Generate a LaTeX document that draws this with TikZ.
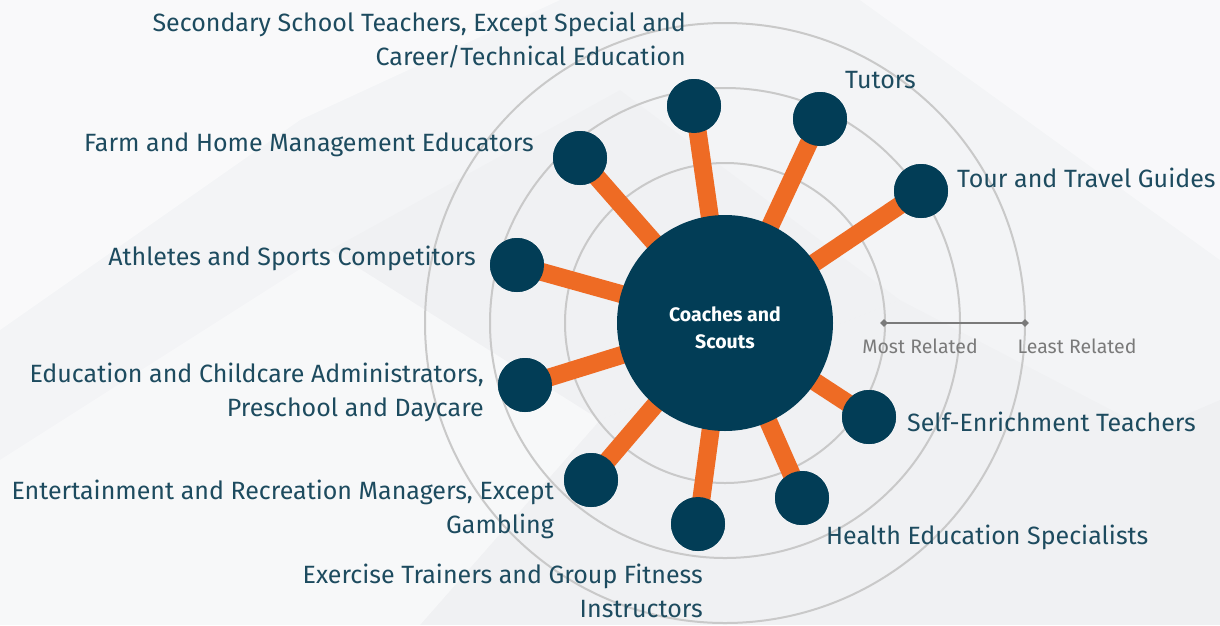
\documentclass[tikz,border=0pt]{standalone}
\usepackage{fontspec}
\setmainfont{Fira Sans}
\usetikzlibrary{shapes.geometric}
\definecolor{navy}{HTML}{023D56}
\definecolor{orng}{HTML}{EE6B24}
\definecolor{lbl}{HTML}{1D4B5F}
\definecolor{ring}{HTML}{C9C9C9}
\definecolor{legc}{HTML}{7A7A7A}
\definecolor{bg}{HTML}{F3F4F6}
\tikzset{
  sat/.style={circle, fill=navy, minimum size=54pt, inner sep=0pt},
  hub/.style={circle, fill=navy, minimum size=216pt, inner sep=0pt},
  hubtext/.style={text=white, font=\fontsize{19.5}{27}\selectfont\bfseries, align=center, inner sep=0pt},
  spoke/.style={orng, line width=18pt},
  lab/.style={text=lbl, font=\fontsize{25}{34}\selectfont, inner sep=0pt},
  leg/.style={text=legc, font=\fontsize{19.5}{22}\selectfont, inner sep=0pt},
  ringline/.style={draw=ring, line width=2pt},
}
\begin{document}
\begin{tikzpicture}[x=1pt,y=-1pt]
\useasboundingbox (0,0) rectangle (1220,625);
% background
\fill[bg] (0,0) rectangle (1220,625);
\fill[white,opacity=0.5] (0,0) -- (560,0) -- (300,120) -- (0,330) -- cycle;
\fill[white,opacity=0.4] (0,460) -- (330,250) -- (600,420) -- (420,625) -- (0,625) -- cycle;
\fill[black,opacity=0.012] (330,250) -- (620,90) -- (900,300) -- (600,420) -- cycle;
\fill[white,opacity=0.45] (860,0) -- (1220,0) -- (1220,260) -- cycle;
\fill[black,opacity=0.015] (1150,430) -- (1220,400) -- (1220,625) -- (1150,625) -- cycle;
\fill[black,opacity=0.01] (600,420) -- (900,300) -- (1150,430) -- (1150,625) -- (420,625) -- cycle;
% rings
\coordinate (c) at (725,323);
\draw[ringline] (c) circle[radius=160];
\draw[ringline] (c) circle[radius=235];
\draw[ringline] (c) circle[radius=300];
% satellites
\node[sat] (s1) at (694,106) {};
\node[sat] (s2) at (820,119) {};
\node[sat] (s3) at (921,191) {};
\node[sat] (s4) at (580,158) {};
\node[sat] (s5) at (517,265) {};
\node[sat] (s6) at (525,385) {};
\node[sat] (s7) at (591,480) {};
\node[sat] (s8) at (698,524) {};
\node[sat] (s9) at (802,498) {};
\node[sat] (s10) at (869,417) {};
% spokes
\foreach \s in {s1,s2,s3,s4,s5,s6,s7,s8,s9,s10}
  \draw[spoke] (c) -- (\s.center);
\foreach \s/\p in {s1/{694,106},s2/{820,119},s3/{921,191},s4/{580,158},s5/{517,265},s6/{525,385},s7/{591,480},s8/{698,524},s9/{802,498},s10/{869,417}}
  \node[sat] at (\p) {};
% hub
\node[hub] (hub) at (c) {};
\node[hubtext] (hubt) at (725,328) {Coaches and\\Scouts};
% labels
\node[lab, anchor=east, align=right] (l1) at (686,40) {Secondary School Teachers, Except Special and\\Career/Technical Education};
\node[lab, anchor=west] (l2) at (845,80) {Tutors};
\node[lab, anchor=west] (l3) at (957,178) {Tour and Travel Guides};
\node[lab, anchor=east] (l4) at (534,145) {Farm and Home Management Educators};
\node[lab, anchor=east] (l5) at (476,258) {Athletes and Sports Competitors};
\node[lab, anchor=east, align=right] (l6) at (484,392) {Education and Childcare Administrators,\\Preschool and Daycare};
\node[lab, anchor=west] (l10) at (907,422) {Self-Enrichment Teachers};
\node[lab, anchor=east, align=right] (l7) at (554,509) {Entertainment and Recreation Managers, Except\\Gambling};
\node[lab, anchor=west] (l9) at (826,537) {Health Education Specialists};
\node[lab, anchor=east, align=right] (l8) at (703,591) {Exercise Trainers and Group Fitness\\Instructors};
% legend
\node[diamond, fill=legc, minimum size=8pt, inner sep=0pt] (m1) at (884,323) {};
\node[diamond, fill=legc, minimum size=8pt, inner sep=0pt] (m2) at (1025,323) {};
\draw[legc, line width=2.5pt] (m1.center) -- (m2.center);
\node[leg] (t1) at (920,346) {Most Related};
\node[leg] (t2) at (1077,346) {Least Related};
\end{tikzpicture}
\end{document}
